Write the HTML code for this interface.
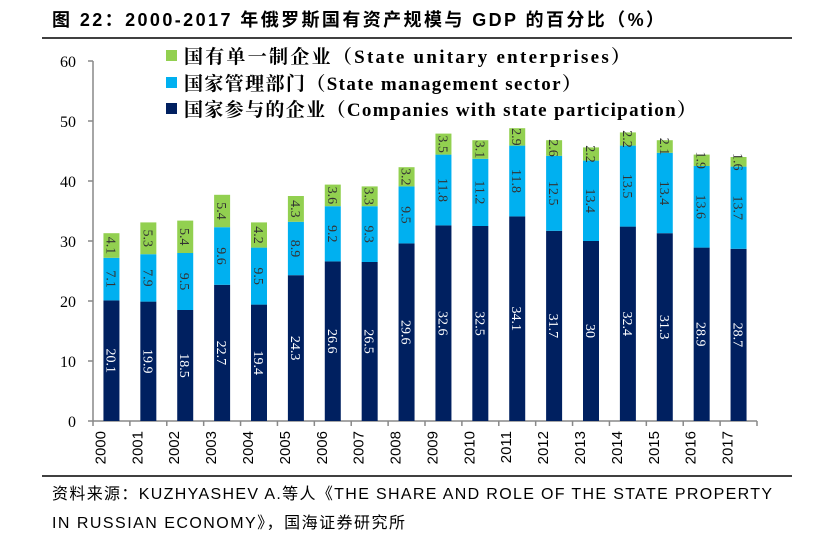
<!DOCTYPE html>
<html><head><meta charset="utf-8"><style>
body{margin:0;background:#fff;width:837px;height:548px;overflow:hidden;font-family:"Liberation Sans","Noto Sans CJK SC",sans-serif}
</style></head><body>
<svg id="chart" width="837" height="548">
<text x="52" y="26" font-size="18" font-weight="bold" textLength="612" lengthAdjust="spacing" font-family="Liberation Sans, Noto Sans CJK SC, sans-serif">图 22：2000-2017 年俄罗斯国有资产规模与 GDP 的百分比（%）</text>
<line x1="42" y1="38" x2="792" y2="38" stroke="#000" stroke-width="1.5"/>
<line x1="42" y1="476" x2="792" y2="476" stroke="#000" stroke-width="1.5"/>
<text x="52" y="499" font-size="16" textLength="720" lengthAdjust="spacing">资料来源：KUZHYASHEV A.等人《THE SHARE AND ROLE OF THE STATE PROPERTY</text>
<text x="52" y="528" font-size="16" textLength="353" lengthAdjust="spacing">IN RUSSIAN ECONOMY》，国海证券研究所</text>
<g id="legend" font-family="Liberation Serif, Noto Serif CJK SC, serif" font-size="19" font-weight="bold">
<rect x="166" y="50" width="11" height="11" fill="#92D050"/>
<text x="184" y="63" textLength="446" lengthAdjust="spacing">国有单一制企业（State unitary enterprises）</text>
<rect x="166" y="77" width="11" height="11" fill="#00B0F0"/>
<text x="184" y="90" textLength="397" lengthAdjust="spacing">国家管理部门（State management sector）</text>
<rect x="166" y="103" width="11" height="11" fill="#002060"/>
<text x="184" y="116" textLength="512" lengthAdjust="spacing">国家参与的企业（Companies with state participation）</text>
</g>
<g id="plot"></g>
</svg>
<script>
const years=["2000","2001","2002","2003","2004","2005","2006","2007","2008","2009","2010","2011","2012","2013","2014","2015","2016","2017"];
const participation=[20.1,19.9,18.5,22.7,19.4,24.3,26.6,26.5,29.6,32.6,32.5,34.1,31.7,30,32.4,31.3,28.9,28.7];
const management=[7.1,7.9,9.5,9.6,9.5,8.9,9.2,9.3,9.5,11.8,11.2,11.8,12.5,13.4,13.5,13.4,13.6,13.7];
const unitary=[4.1,5.3,5.4,5.4,4.2,4.3,3.6,3.3,3.2,3.5,3.1,2.9,2.6,2.2,2.2,2.1,1.9,1.6];
const yTicks=[0,10,20,30,40,50,60];
const NS="http://www.w3.org/2000/svg";
const g=document.getElementById('plot');
const x0=93,x1=757,y0=421,y1=61,yMax=60;
const step=(x1-x0)/years.length,bw=16;
const Y=v=>y0-(v/yMax)*(y0-y1);
const X=i=>x0+step*(i+0.5);
function mk(t,a){const e=document.createElementNS(NS,t);for(const k in a)e.setAttribute(k,a[k]);g.appendChild(e);return e;}
let ax=mk('line',{x1:x0,y1:y1,x2:x0,y2:y0,stroke:'#888','stroke-width':1.5});

let xa=mk('line',{x1:x0,y1:y0,x2:x1,y2:y0,stroke:'#888','stroke-width':1.5});

yTicks.forEach(v=>{
 let t=mk('line',{x1:x0-5,y1:Y(v),x2:x0,y2:Y(v),stroke:'#888','stroke-width':1.5});
 
 let l=mk('text',{x:x0-17,y:Y(v)+6,'text-anchor':'end','font-size':16,'font-family':'Liberation Serif,serif'});
 l.textContent=v;
 
});
for(let i=0;i<=years.length;i++){
 let t=mk('line',{x1:x0+step*i,y1:y0,x2:x0+step*i,y2:y0+5,stroke:'#888','stroke-width':1.5});
 
}
const series=[[participation,'#002060','#fff','participation'],[management,'#00B0F0','#333','management'],[unitary,'#92D050','#333','unitary']];
years.forEach((yr,i)=>{
 let base=0;
 series.forEach(([arr,col,tc,nm])=>{
  const v=arr[i];
  let r=mk('rect',{x:X(i)-bw/2,y:Y(base+v),width:bw,height:Y(base)-Y(base+v),fill:col});
  
  const cy=(Y(base)+Y(base+v))/2;
  let t=mk('text',{x:0,y:0,transform:`translate(${X(i)-5},${cy}) rotate(90)`,'text-anchor':'middle','font-size':14,'font-family':'Liberation Serif,serif',fill:tc});
  t.textContent=v;
  
  base+=v;
 });
 let l=mk('text',{x:0,y:0,transform:`translate(${X(i)-6},${y0+10}) rotate(-90)`,'text-anchor':'end','font-size':15,'font-family':'Liberation Sans,sans-serif'});
 l.textContent=yr;
 
});
</script>
</body></html>
